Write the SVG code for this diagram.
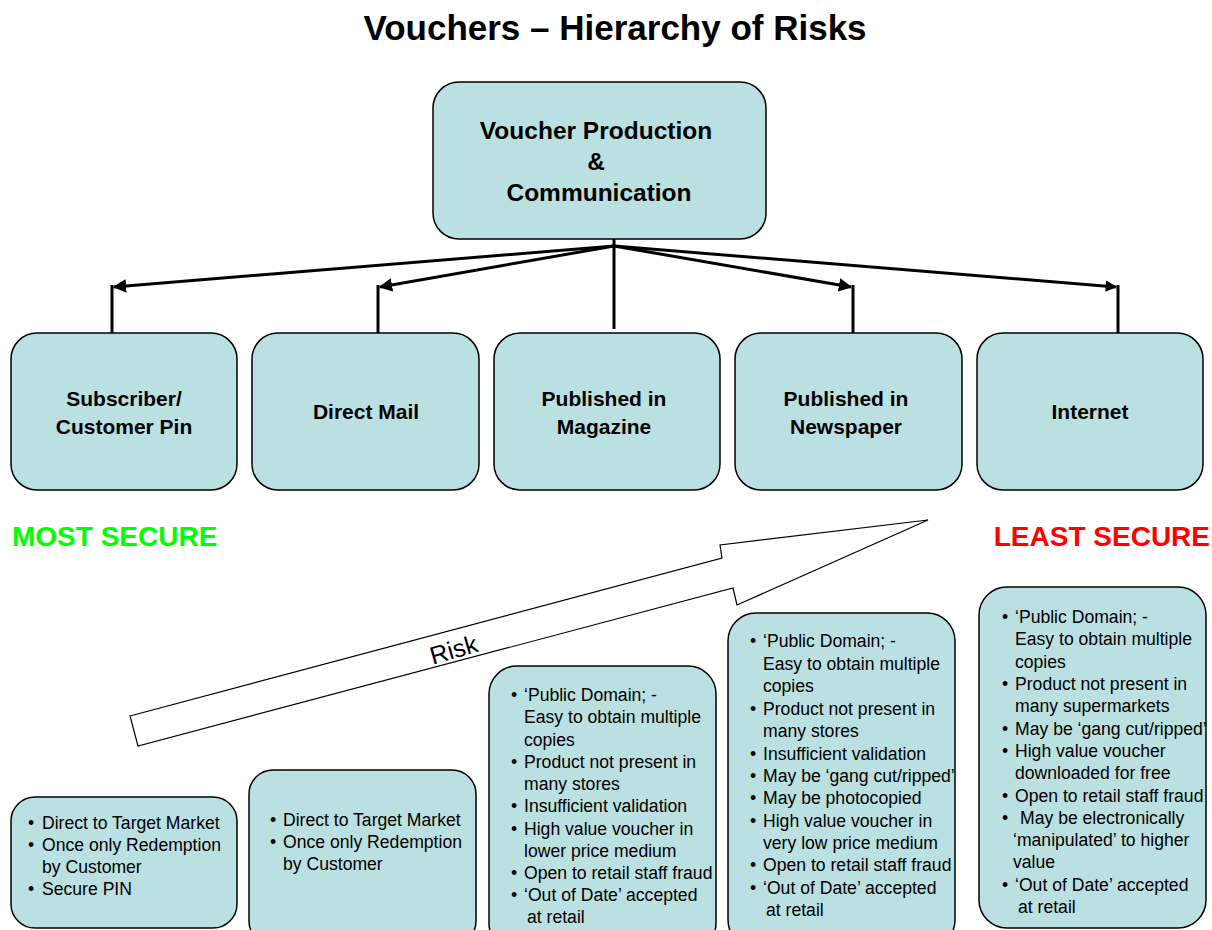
<svg xmlns="http://www.w3.org/2000/svg" width="1212" height="930" viewBox="0 0 1212 930">
<defs>
<style>
.box{fill:#bbe0e2;stroke:#000;stroke-width:1.5}
.t{font-family:"Liberation Sans",Arial,sans-serif;fill:#000}
.h{font-weight:bold;font-size:21px;text-anchor:middle}
.b{font-size:17.6px}
.c{stroke:#000;stroke-width:3;fill:none}
</style>
<marker id="ah" viewBox="0 0 10 10" refX="9" refY="5" markerWidth="4.5" markerHeight="4.5" markerUnits="strokeWidth" orient="auto"><path d="M0,0 L10,5 L0,10 z" fill="#000"/></marker>
<marker id="ah2" viewBox="0 0 10 10" refX="9" refY="5" markerWidth="4.2" markerHeight="3.8" markerUnits="strokeWidth" orient="auto"><path d="M0,0 L10,5 L0,10 z" fill="#000"/></marker>
</defs>
<rect width="1212" height="930" fill="#fff"/>
<text class="t" x="615" y="40" font-size="35" font-weight="bold" text-anchor="middle">Vouchers – Hierarchy of Risks</text>

<g id="connectors">
<line class="c" x1="614" y1="238" x2="614" y2="329"/>
<line class="c" x1="614" y1="246" x2="114" y2="287" marker-end="url(#ah)"/>
<line class="c" x1="614" y1="246" x2="380" y2="287" marker-end="url(#ah)"/>
<line class="c" x1="614" y1="246" x2="851" y2="287" marker-end="url(#ah)"/>
<line class="c" x1="614" y1="246" x2="1116" y2="287" stroke-width="5" marker-end="url(#ah2)"/>
<line class="c" x1="112" y1="285" x2="112" y2="338"/>
<line class="c" x1="378" y1="285" x2="378" y2="338"/>
<line class="c" x1="853" y1="285" x2="853" y2="338"/>
<line class="c" x1="1118" y1="285" x2="1118" y2="338"/>
</g>

<g id="top">
<rect class="box" x="433" y="82" width="333" height="157" rx="26"/>
<text class="t" font-weight="bold" font-size="24.5" text-anchor="middle"><tspan x="596" y="139">Voucher Production</tspan><tspan x="596" y="170">&amp;</tspan><tspan x="599" y="201">Communication</tspan></text>
</g>

<g id="n1"><rect class="box" x="11" y="333" width="226" height="157" rx="26"/>
<text class="t h"><tspan x="124" y="406">Subscriber/</tspan><tspan x="124" y="434">Customer Pin</tspan></text></g>
<g id="n2"><rect class="box" x="252" y="333" width="227" height="157" rx="26"/>
<text class="t h" x="366" y="419">Direct Mail</text></g>
<g id="n3"><rect class="box" x="494" y="333" width="226" height="157" rx="26"/>
<text class="t h"><tspan x="604" y="406">Published in</tspan><tspan x="604" y="434">Magazine</tspan></text></g>
<g id="n4"><rect class="box" x="735" y="333" width="227" height="157" rx="26"/>
<text class="t h"><tspan x="846" y="406">Published in</tspan><tspan x="846" y="434">Newspaper</tspan></text></g>
<g id="n5"><rect class="box" x="977" y="333" width="226" height="157" rx="26"/>
<text class="t h" x="1090" y="419">Internet</text></g>

<text class="t" x="12" y="546" font-size="28" font-weight="bold" style="fill:#00ff00">MOST SECURE</text>
<text class="t" x="1210" y="546" font-size="28" font-weight="bold" text-anchor="end" style="fill:#ff0000">LEAST SECURE</text>

<g id="risk-arrow">
<path d="M130,716 L722,558 L720,545 L928,520 L737,605 L733,588 L138,746 Z" fill="#fff" stroke="#000" stroke-width="1.2"/>
<text class="t" x="456" y="658" font-size="25" text-anchor="middle" transform="rotate(-16 456 658)">Risk</text>
</g>

<g id="d1"><rect class="box" x="11" y="797" width="226" height="131" rx="24"/>
<text class="t b"><tspan x="28" y="829">•</tspan><tspan x="42" y="829">Direct to Target Market</tspan><tspan x="28" y="851">•</tspan><tspan x="42" y="851">Once only Redemption</tspan><tspan x="42" y="873">by Customer</tspan><tspan x="28" y="895">•</tspan><tspan x="42" y="895">Secure PIN</tspan></text></g>

<g id="d2"><rect class="box" x="249" y="770" width="227" height="175" rx="24"/>
<text class="t b"><tspan x="270" y="826">•</tspan><tspan x="283" y="826">Direct to Target Market</tspan><tspan x="270" y="848">•</tspan><tspan x="283" y="848">Once only Redemption</tspan><tspan x="283" y="870">by Customer</tspan></text></g>

<g id="d3"><rect class="box" x="489" y="666" width="227" height="285" rx="28"/>
<text class="t b"><tspan x="511" y="701">•</tspan><tspan x="524" y="701">‘Public Domain; -</tspan><tspan x="524" y="723">Easy to obtain multiple</tspan><tspan x="524" y="746">copies</tspan><tspan x="511" y="768">•</tspan><tspan x="524" y="768">Product not present in</tspan><tspan x="524" y="790">many stores</tspan><tspan x="511" y="812">•</tspan><tspan x="524" y="812">Insufficient validation</tspan><tspan x="511" y="835">•</tspan><tspan x="524" y="835">High value voucher in</tspan><tspan x="524" y="857">lower price medium</tspan><tspan x="511" y="879">•</tspan><tspan x="524" y="879">Open to retail staff fraud</tspan><tspan x="511" y="901">•</tspan><tspan x="524" y="901">‘Out of Date’ accepted</tspan><tspan x="527" y="923">at retail</tspan></text></g>

<g id="d4"><rect class="box" x="728" y="613" width="227" height="335" rx="28"/>
<text class="t b"><tspan x="750" y="647">•</tspan><tspan x="763" y="647">‘Public Domain; -</tspan><tspan x="763" y="670">Easy to obtain multiple</tspan><tspan x="763" y="692">copies</tspan><tspan x="750" y="715">•</tspan><tspan x="763" y="715">Product not present in</tspan><tspan x="763" y="737">many stores</tspan><tspan x="750" y="760">•</tspan><tspan x="763" y="760">Insufficient validation</tspan><tspan x="750" y="782">•</tspan><tspan x="763" y="782">May be ‘gang cut/ripped’</tspan><tspan x="750" y="804">•</tspan><tspan x="763" y="804">May be photocopied</tspan><tspan x="750" y="827">•</tspan><tspan x="763" y="827">High value voucher in</tspan><tspan x="763" y="849">very low price medium</tspan><tspan x="750" y="871">•</tspan><tspan x="763" y="871">Open to retail staff fraud</tspan><tspan x="750" y="894">•</tspan><tspan x="763" y="894">‘Out of Date’ accepted</tspan><tspan x="766" y="916">at retail</tspan></text></g>

<g id="d5"><rect class="box" x="979" y="587" width="227" height="341" rx="28"/>
<text class="t b"><tspan x="1002" y="623">•</tspan><tspan x="1015" y="623">‘Public Domain; -</tspan><tspan x="1015" y="645">Easy to obtain multiple</tspan><tspan x="1015" y="668">copies</tspan><tspan x="1002" y="690">•</tspan><tspan x="1015" y="690">Product not present in</tspan><tspan x="1015" y="712">many supermarkets</tspan><tspan x="1002" y="735">•</tspan><tspan x="1015" y="735">May be ‘gang cut/ripped’</tspan><tspan x="1002" y="757">•</tspan><tspan x="1015" y="757">High value voucher</tspan><tspan x="1015" y="779">downloaded for free</tspan><tspan x="1002" y="802">•</tspan><tspan x="1015" y="802">Open to retail staff fraud</tspan><tspan x="1002" y="824">•</tspan><tspan x="1020" y="824">May be electronically</tspan><tspan x="1013" y="846">‘manipulated’ to higher</tspan><tspan x="1013" y="868">value</tspan><tspan x="1002" y="891">•</tspan><tspan x="1015" y="891">‘Out of Date’ accepted</tspan><tspan x="1018" y="913">at retail</tspan></text></g>
</svg>
